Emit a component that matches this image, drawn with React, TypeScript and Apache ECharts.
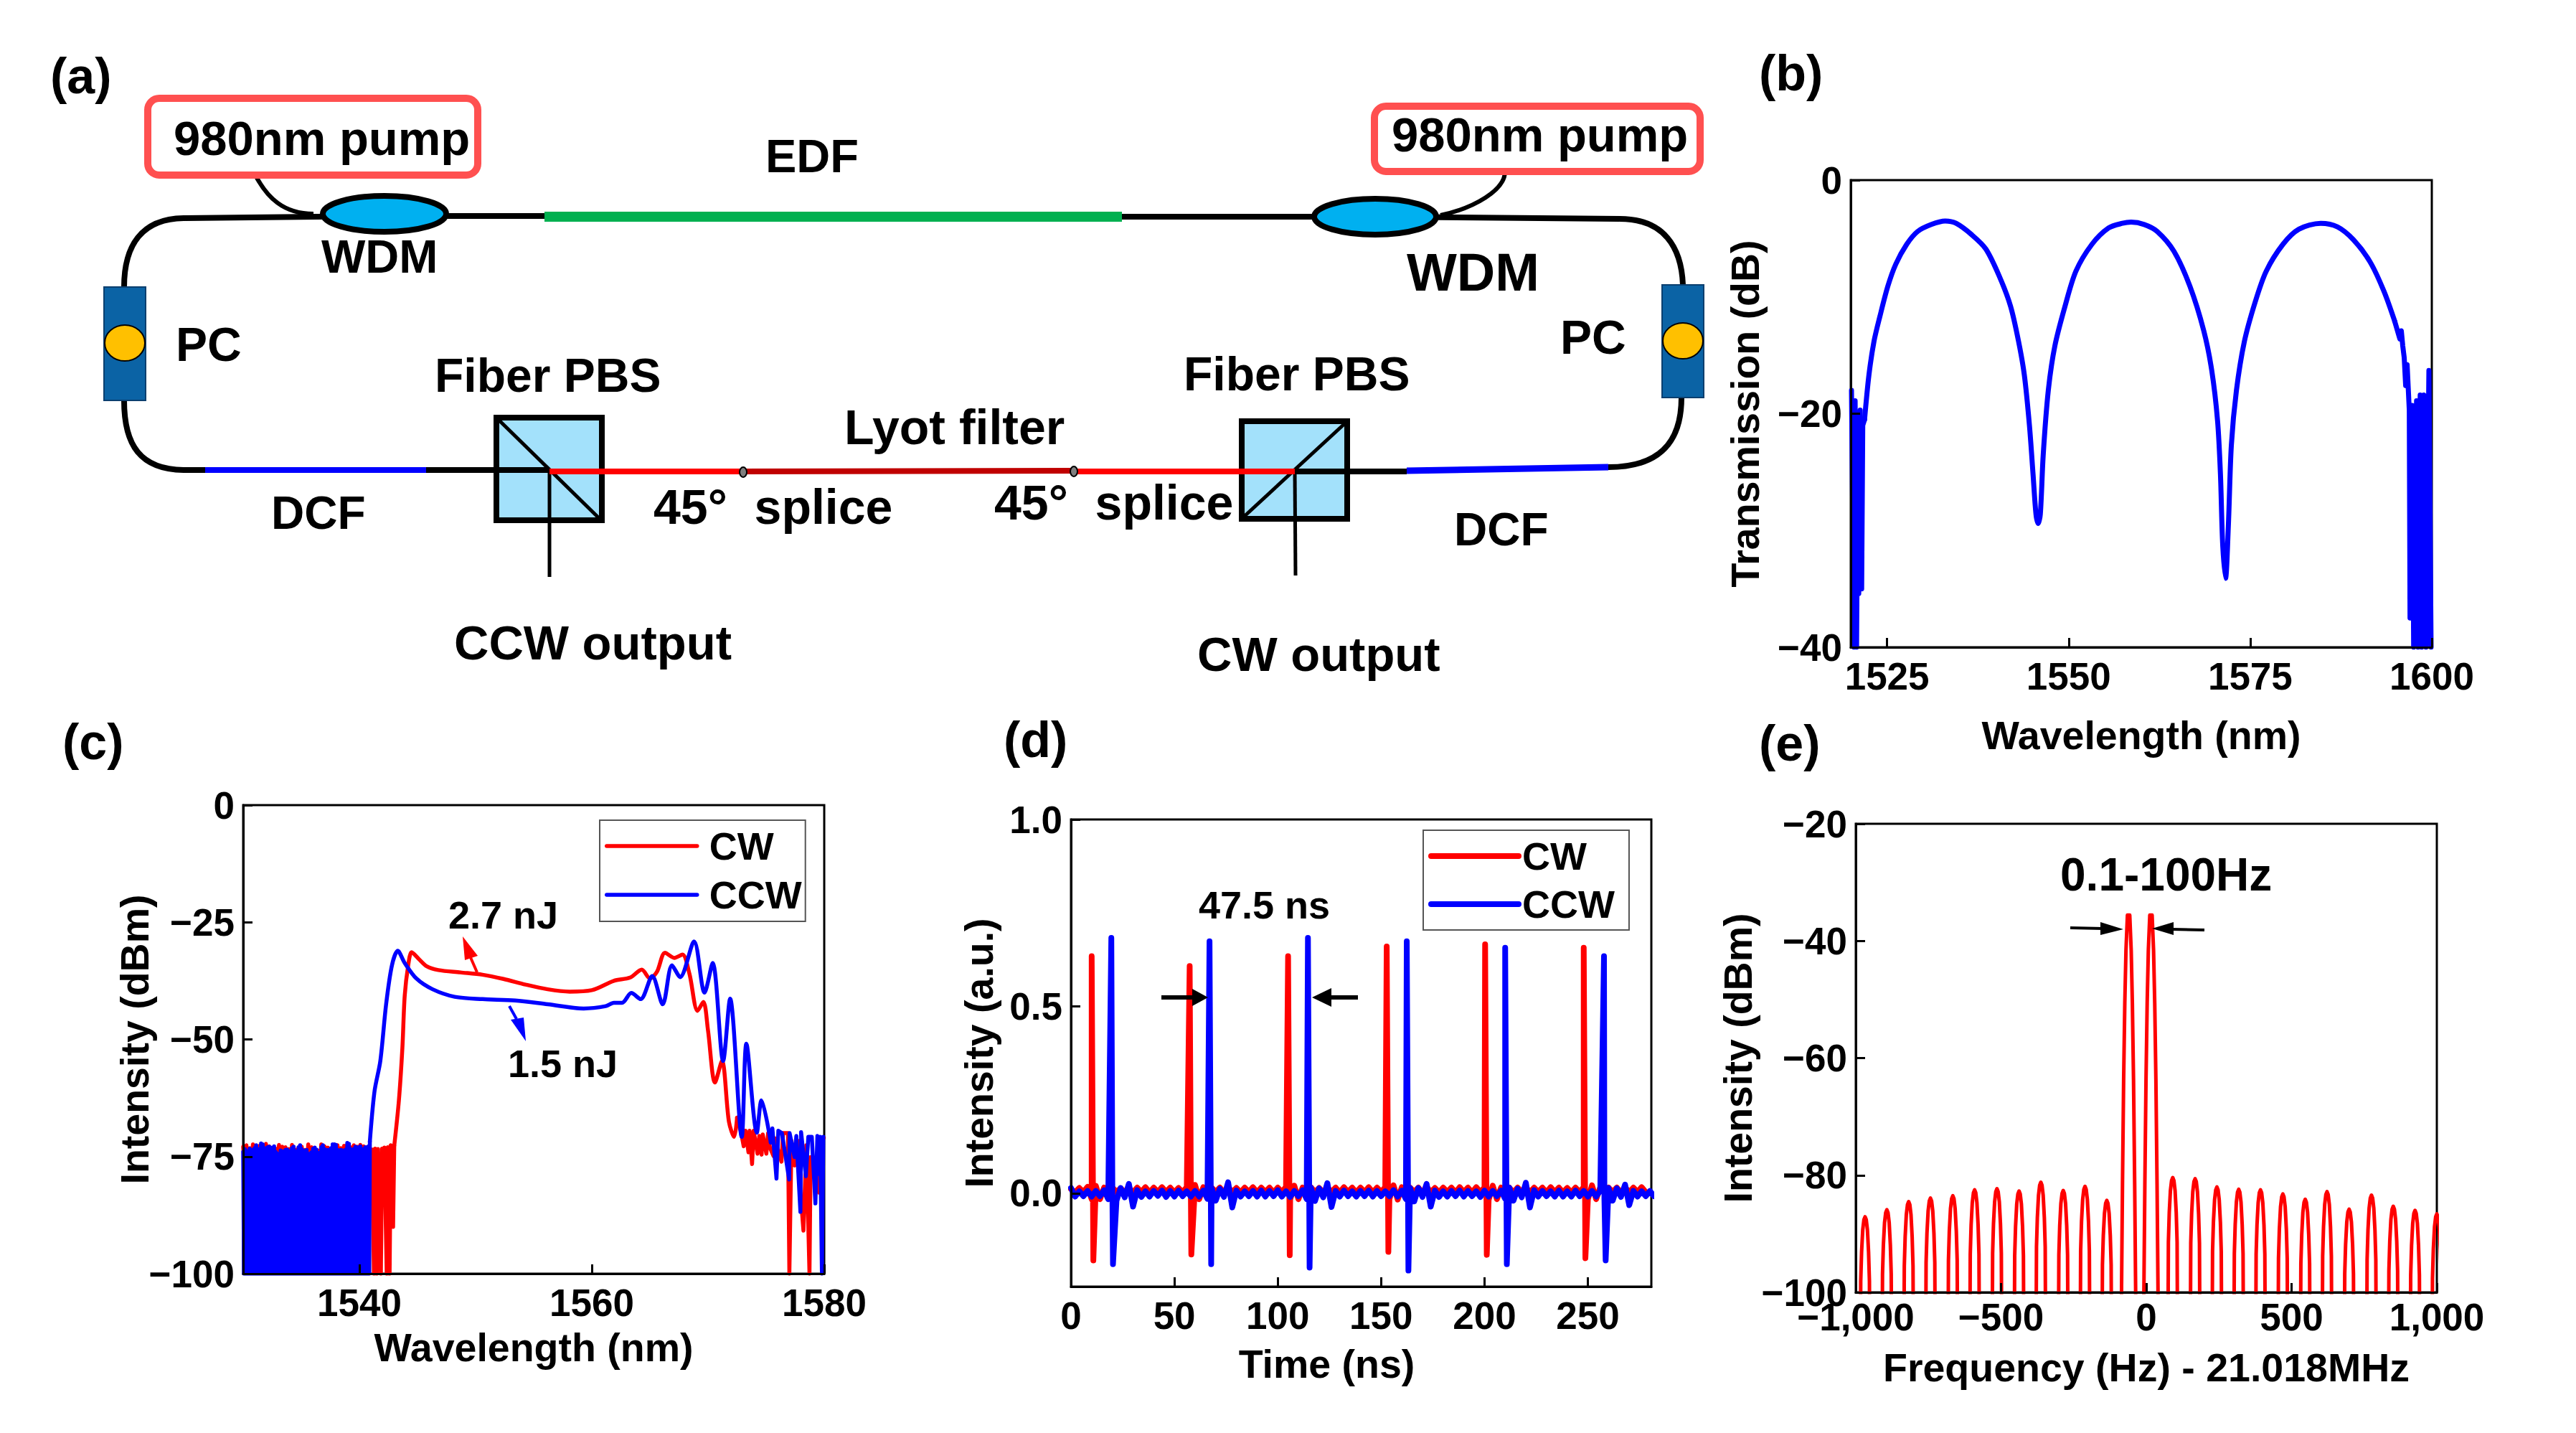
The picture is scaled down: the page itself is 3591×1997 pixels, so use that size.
import React, { useEffect, useRef } from "react";
import * as echarts from "echarts";

const FONT = '"Liberation Sans", Arial, sans-serif';
const RED = "#ff0000";
const BLUE = "#0000ff";

// ---------- panel (b) ----------
const bLeftNoise = [[1520.1,-18],[1520.45,-40],[1520.6,-18.9],[1520.8,-40],[1521,-21],[1521.1,-35.4],[1521.3,-19.7],[1521.5,-35],[1521.65,-21]];
const bCurve = [[1521.9,-20.5],[1522.5,-16.7],[1523.2,-13.8],[1524,-11.7],[1525.1,-9.1],[1526.2,-7.2],[1527.7,-5.5],[1529.2,-4.4],[1531.1,-3.8],[1533,-3.5],[1534.5,-3.7],[1536.7,-4.7],[1538.6,-5.9],[1540.5,-8.3],[1542,-10.8],[1543.1,-13.8],[1543.9,-16.7],[1544.6,-21],[1545.1,-25.2],[1545.5,-28.6],[1545.8,-29.4],[1546.1,-28.6],[1546.5,-23.5],[1547.2,-18],[1548.1,-14.2],[1549.5,-10.8],[1551,-7.8],[1553.2,-5.5],[1555.5,-4.1],[1557.4,-3.7],[1558.6,-3.6],[1560.4,-3.8],[1562.2,-4.4],[1564.5,-6.1],[1566.7,-9.1],[1568.6,-12.9],[1569.7,-16.3],[1570.5,-20.6],[1570.9,-25.2],[1571.2,-31.1],[1571.6,-34.1],[1572,-29.4],[1572.4,-22.7],[1573.1,-18],[1574.2,-13.8],[1575.7,-10.4],[1577.2,-7.8],[1579.5,-5.5],[1581.7,-4.2],[1584.7,-3.7],[1587,-4],[1589.2,-5.1],[1591.5,-7],[1593.4,-9.5],[1594.9,-12.1]];
const bRightNoise = [[1595.6,-13.6],[1595.8,-12.9],[1596,-14.2],[1596.2,-15.2],[1596.4,-17.6],[1596.6,-15.8],[1596.9,-19.7],[1597,-37.5],[1597.3,-19.3],[1597.5,-40],[1597.9,-18.9],[1598.1,-40],[1598.4,-18.4],[1598.6,-40],[1598.9,-18.4],[1599.2,-40],[1599.6,-16.3],[1599.9,-40]];

// ---------- panel (c) ----------
const cCcwLeftX0 = 1530;
const cCcwLeftStep = 0.14;
const cCcwLeftTops = [-74,-73.4,-73.8,-74.2,-73.3,-73.6,-74.1,-73.2,-72.6,-73.4,-74,-72.2,-72.4,-73.2,-73.5,-73,-72.9,-73.1,-73.6,-72.8,-74,-74.4,-74.6,-73.7,-73.9,-74.5,-73.6,-73.5,-73.8,-74.1,-73.2,-72.9,-73.8,-74,-73,-72.6,-73.4,-73.7,-73.9,-73.6,-74.4,-74.5,-74.1,-73.3,-73.1,-73.5,-74.2,-74.6,-73,-72.6,-73.4,-74.4,-73.6,-73.9,-73.2,-72.4,-72.4,-72.5,-73.6,-74.2,-73.6,-73.7,-73.9,-73.5,-72.1,-72.3,-73.4,-74.1,-73.4,-72.9,-73.6,-73,-72.8,-73.4,-73.5,-73,-73.1,-72.8];
const cCwUnderX0 = 1530;
const cCwUnderStep = 0.28;
const cCwUnderTops = [-72.9,-72.6,-73.2,-72.4,-73,-72.7,-73.4,-72.3,-72.8,-73.6,-73.3,-72.5,-72.9,-73,-73.4,-72.5,-73.5,-73.1,-72.9,-73.6,-72.4,-73,-73.3,-73.7,-72.4,-72.8,-73.1,-73.4,-72.5,-72.6,-73.2,-72.7,-72.4,-73,-72.6,-72.9,-72.5,-72.8,-73];
const cCwBlock = [[1540.9,-73.6],[1541,-85],[1541.1,-73.5],[1541.25,-100],[1541.35,-73.3],[1541.5,-100],[1541.6,-73.4],[1541.85,-100],[1541.95,-73.3],[1542.05,-82],[1542.15,-73.1],[1542.35,-100],[1542.45,-73],[1542.6,-100],[1542.7,-72.6],[1542.9,-90]];
const cCwCurve = [[1543,-72.7],[1543.4,-63],[1543.7,-51.8],[1543.9,-40.7],[1544.2,-34.2],[1544.5,-31.4],[1545.1,-32.8],[1545.8,-34.4],[1546.8,-35.2],[1548.7,-35.7],[1550.6,-36.2],[1552.4,-37.1],[1554.3,-38.3],[1556.2,-39.3],[1558.1,-39.8],[1560,-39.5],[1561.9,-37.5],[1563.3,-36.8],[1564.3,-35.1],[1565,-37],[1565.6,-35.6],[1566.3,-31.5],[1567.1,-32.6],[1567.8,-31.9],[1568.4,-36],[1569.1,-43.9],[1569.6,-42],[1570,-48.1],[1570.6,-59.2],[1571.2,-54.6],[1571.8,-67.6],[1572.25,-70.8],[1572.5,-66.7]];
const cCwRight = [[1572.86,-70.05],[1573.07,-72.8],[1573.23,-69.5],[1573.48,-74.1],[1573.58,-69.5],[1573.79,-76.6],[1573.93,-69.5],[1574.26,-74.4],[1574.41,-70.6],[1574.61,-74.6],[1574.71,-70.3],[1575.02,-74.4],[1575.17,-70],[1575.33,-73.1],[1575.64,-74.9],[1575.74,-71.1],[1576.32,-76.1],[1576.46,-70],[1576.88,-70],[1577,-100],[1577.18,-71.6],[1577.45,-76.9],[1577.7,-71.6],[1577.8,-77.7],[1578.21,-90.8],[1578.46,-72.6],[1578.73,-100],[1578.83,-75.1],[1579.55,-82.7],[1579.65,-71.6],[1579.96,-71]];
const cCcwCurve = [[1540.9,-71.8],[1541.3,-61.1],[1541.8,-54.6],[1542.3,-42.5],[1542.8,-34.2],[1543.3,-31.1],[1543.9,-33.7],[1544.9,-37],[1546.3,-39.3],[1548.2,-40.9],[1550.6,-41.4],[1553.4,-41.7],[1556.2,-42.5],[1559.3,-43.4],[1561.2,-42.9],[1561.9,-42.2],[1562.6,-42.2],[1563.4,-40.1],[1564.2,-41.4],[1565.2,-36.5],[1566.1,-42.5],[1566.9,-34.2],[1567.6,-36.7],[1568.8,-29.1],[1569.7,-40],[1570.4,-33.7],[1571.3,-54.6],[1571.9,-41.3],[1572.9,-70.8],[1573.3,-50.9],[1574.2,-69.9],[1574.6,-63],[1575.4,-72]];
const cCcwRight = [[1575.54,-69],[1575.89,-79.7],[1576.05,-69.5],[1576.36,-70],[1576.67,-74.9],[1576.98,-79.9],[1577.02,-70],[1577.45,-75.1],[1577.6,-70.6],[1577.95,-86.8],[1578.01,-69.8],[1578.42,-79.2],[1578.63,-70.8],[1578.93,-70.8],[1579.24,-85],[1579.41,-70.6],[1579.55,-78.7],[1579.65,-70.8],[1579.8,-100],[1579.92,-70.8]];

// ---------- panel (d) ----------
const dSampleStep = 2;
const dCwBase = [
  .011,.002,.014,.003,.017,-.016,.02,-.016,.015,.001,.015,.003,.013,.003,.014,.002,.015,.003,.016,.002,.015,.003,.016,.003,
  .015,.002,.014,.003,.016,-.018,.022,-.016,.016,.001,.015,.003,.015,.002,.016,.003,.014,.002,.015,.003,.016,.002,.015,.003,
  .015,.002,.015,.003,.017,-.017,.02,-.016,.015,.001,.016,.003,.014,.002,.015,.003,.015,.002,.016,.003,.015,.002,.015,.003,
  .016,.002,.015,.003,.016,-.016,.021,-.017,.016,.002,.015,.003,.015,.002,.017,.003,.014,.002,.015,.003,.015,.002,.016,.003,
  .015,.002,.016,.003,.015,-.018,.02,-.016,.015,.001,.015,.002,.015,.003,.016,.002,.015,.003,.015,.002,.016,.003,.015,.002,
  .014,.002,.015,.003,.016,-.017,.021,-.016,.016,.001,.015,.003,.015,.002,.016,.002,.015,.003,.016,.003,
];
const dCcwBase = [
  .014,-.009,.005,-.008,.006,-.009,.006,-.008,.008,-.016,.014,-.02,.014,-.011,.025,-.036,.008,-.01,.005,-.009,.006,-.007,.007,-.01,
  .006,-.009,.007,-.008,.005,-.009,.006,-.009,.007,-.015,.014,-.02,.012,-.01,.029,-.038,.007,-.009,.005,-.008,.006,-.009,.007,-.009,
  .006,-.008,.008,-.009,.005,-.01,.006,-.008,.008,-.016,.015,-.021,.013,-.011,.027,-.037,.006,-.009,.007,-.008,.005,-.009,.006,-.008,
  .007,-.009,.006,-.008,.005,-.008,.008,-.009,.007,-.016,.014,-.022,.014,-.01,.025,-.036,.007,-.01,.005,-.009,.006,-.008,.007,-.009,
  .006,-.008,.005,-.01,.007,-.009,.006,-.008,.007,-.015,.015,-.02,.012,-.011,.028,-.038,.008,-.009,.006,-.008,.005,-.009,.007,-.009,
  .005,-.009,.007,-.008,.006,-.009,.006,-.009,.007,-.016,.014,-.02,.013,-.01,.023,-.032,.006,-.009,.005,-.008,.006,-.008,
];
const dCwPulseT = [10, 57.4, 105, 152.7, 200.3, 248];
const dCwPeak = [0.634, 0.608, 0.634, 0.66, 0.666, 0.657];
const dCwDip = [-0.18, -0.164, -0.166, -0.157, -0.165, -0.174];
const dCcwPulseT = [19.5, 67, 114.6, 162.4, 210, 257.8];
const dCcwPeak = [0.683, 0.674, 0.683, 0.674, 0.657, 0.634];
const dCcwDip = [-0.19, -0.19, -0.199, -0.207, -0.19, -0.18];
const dDipDelay = 0.8;

// ---------- panel (e) ----------
const eLobeHz = [-968,-893,-818,-743,-666,-591,-514,-438,-363,-286,-211,-136,-61,16,91,168,243,318,393,470,547,622,698,775,850,925,1000];
const eLobeDb = [-87.1,-85.9,-84.5,-83.9,-83.5,-82.5,-82.3,-82.7,-81.2,-82.6,-81.9,-84.3,-35.6,-35.6,-80.4,-80.6,-82,-82.4,-82.5,-83.2,-84.1,-82.8,-85.8,-83.4,-85.3,-86,-86.6];
const eSideOffsets = [-17,-15,-12,-8,-4,0,4,8,12,15,17];
const eSideDrops = [34,11,6,2.2,0.5,0,0.5,2.2,6,11,34];
const eMainOffsets = [-25,-21,-17,-13,-9,-4,4,9,13,17,21,25];
const eMainDrops = [68,46,28,15,6,0,0,6,15,28,46,68];

// ---------- tick labels ----------
const bXTicks = [1525, 1550, 1575, 1600];
const bYTicks = [0, -20, -40];
const cXTicks = [1540, 1560, 1580];
const cYTicks = [0, -25, -50, -75, -100];
const dXTicks = [0, 50, 100, 150, 200, 250];
const dYTicks = [0, 0.5, 1];
const eXTicks = [-1000, -500, 0, 500, 1000];
const eYTicks = [-20, -40, -60, -80, -100];

// ---------- series builders ----------
function spikes(x0: number, step: number, tops: number[], low: number) {
  const out: number[][] = [];
  tops.forEach((t, i) => {
    out.push([x0 + i * step, t]);
    out.push([x0 + (i + 0.5) * step, low]);
  });
  return out;
}
function pulseTrain(base: number[], ts: number[], peaks: number[], dips: number[]) {
  const pts: number[][] = base.map((v, i) => [i * dSampleStep, v]);
  ts.forEach((t, i) => {
    pts.push([t, peaks[i]]);
    pts.push([t + dDipDelay, dips[i]]);
  });
  return pts.sort((a, b) => a[0] - b[0]);
}
function lobes() {
  const pts: number[][] = [];
  eLobeHz.forEach((hz, i) => {
    const main = eLobeDb[i] > -50;
    const off = main ? eMainOffsets : eSideOffsets;
    const drop = main ? eMainDrops : eSideDrops;
    off.forEach((o, j) => pts.push([hz + o, eLobeDb[i] - drop[j]]));
  });
  return pts;
}
const lastOf = (a: number[][]) => a[a.length - 1];

const minus = (s: string) => s.replace("-", "\u2212");
const thousands = (v: number) => minus(v.toLocaleString("en-US"));

function axis(min: number, max: number, ticks: number[], name: string, gap: number, gridIndex: number, fmt: (v: number) => string, margin: number, namePadding: number[] = [0, 0, 0, 0]) {
  return {
    type: "value", gridIndex, min, max, name, nameLocation: "middle", nameGap: gap, nameMoveOverlap: false, z: 5,
    nameTextStyle: { fontFamily: FONT, fontWeight: "bold", fontSize: 55.5, color: "#000", padding: namePadding },
    axisLine: { show: true, onZero: false, lineStyle: { color: "#000", width: 3 } },
    axisTick: { show: true, inside: true, length: 13, customValues: ticks, lineStyle: { color: "#000", width: 3 } },
    axisLabel: { show: true, customValues: ticks, margin, formatter: fmt, fontFamily: FONT, fontWeight: "bold", fontSize: 53, color: "#000", hideOverlap: false },
    splitLine: { show: false },
  };
}

function line(name: string | undefined, data: number[][], color: string, width: number, idx: number, smooth: number | boolean = false) {
  return {
    type: "line", name, data, xAxisIndex: idx, yAxisIndex: idx, symbol: "none", showSymbol: false, silent: true, smooth,
    lineStyle: { color, width, join: "round", cap: "round" }, itemStyle: { color }, clip: true,
  };
}

// ---------- schematic helpers (panel a and annotations) ----------
const txt = (text: string, x: number, baseline: number, fs: number) => ({
  type: "text", z: 50,
  style: { text, x, y: baseline - 0.36 * fs, fontFamily: FONT, fontWeight: "bold", fontSize: fs, fill: "#000", textAlign: "left", textVerticalAlign: "middle", verticalAlign: "middle" },
});
const seg = (x1: number, y1: number, x2: number, y2: number, stroke: string, lineWidth: number, z = 30) => ({
  type: "line", z, shape: { x1, y1, x2, y2 }, style: { stroke, lineWidth },
});
const bez = (x1: number, y1: number, cpx1: number, cpy1: number, cpx2: number, cpy2: number, x2: number, y2: number, lineWidth = 8) => ({
  type: "bezierCurve", z: 30, shape: { x1, y1, cpx1, cpy1, cpx2, cpy2, x2, y2 }, style: { stroke: "#000", lineWidth, fill: "none" },
});
const tri = (points: number[][], fill: string) => ({ type: "polygon", z: 40, shape: { points }, style: { fill } });
const ell = (cx: number, cy: number, rx: number, ry: number, fill: string, lineWidth: number, z = 35) => ({
  type: "ellipse", z, shape: { cx, cy, rx, ry }, style: { fill, stroke: "#000", lineWidth },
});
const box = (x: number, y: number, width: number, height: number, fill: string, stroke: string, lineWidth: number, r = 0, z = 32) => ({
  type: "rect", z, shape: { x, y, width, height, r }, style: { fill, stroke, lineWidth },
});

const schematic: any[] = [
  // loop fibre
  seg(258, 304, 540, 301, "#000", 8), seg(540, 301, 759, 301, "#000", 8),
  seg(1564, 302, 1917, 302, "#000", 8), seg(1917, 302, 2258, 305, "#000", 8),
  bez(258, 304, 195, 304, 173, 345, 173, 400),
  bez(173, 558, 173, 620, 195, 655, 258, 655),
  bez(2258, 305, 2320, 305, 2344, 345, 2346, 397),
  bez(2344, 554, 2344, 620, 2310, 651, 2242, 651),
  seg(258, 655, 286, 655, "#000", 8), seg(594, 655, 766, 655, "#000", 8, 34), seg(1805, 657, 1961, 657, "#000", 8, 34),
  seg(759, 302, 1564, 302, "#00b050", 14),
  seg(286, 655, 594, 655, "#0000ff", 8), seg(1961, 656, 2242, 651, "#0000ff", 9),
  // pump leads
  bez(356, 244, 372, 275, 395, 298, 437, 298, 6),
  bez(2098, 239, 2098, 265, 2055, 290, 2008, 300, 6),
  box(206, 137, 460, 107, "#fff", "#ff5050", 10, 16), box(1916, 148, 454, 91, "#fff", "#ff5050", 10, 16),
  ell(536, 298, 86, 25, "#00b0f0", 8), ell(1917, 302, 85, 25, "#00b0f0", 8),
  // polarisation controllers
  box(145, 400, 58, 158, "#0b63a5", "#0b3f6f", 2), box(2317, 397, 58, 157, "#0b63a5", "#0b3f6f", 2),
  ell(174, 478, 28, 25, "#ffc000", 2, 36), ell(2346, 475, 28, 25, "#ffc000", 2, 36),
  // PBS cubes
  box(692, 582, 147, 143, "#a3e1fb", "#000", 8, 0, 31), box(1731, 587, 147, 136, "#a3e1fb", "#000", 8, 0, 31),
  seg(694, 584, 837, 724, "#000", 5, 33), seg(1876, 589, 1733, 721, "#000", 5, 33),
  seg(766, 657, 766, 804, "#000", 5, 33), seg(1805, 657, 1806, 802, "#000", 5, 33),
  // Lyot filter
  seg(766, 657, 1036, 657, "#ff0000", 8, 34), seg(1036, 657, 1497, 656, "#c00000", 8, 34), seg(1497, 657, 1805, 657, "#ff0000", 8, 34),
  ell(1036, 658, 5, 7, "#7f7f7f", 2), ell(1497, 657, 5, 7, "#7f7f7f", 2),
  // labels
  txt("(a)", 70, 131, 70), txt("(b)", 2452, 127, 70), txt("(c)", 87, 1059, 70), txt("(d)", 1399, 1056, 70), txt("(e)", 2452, 1061, 70),
  txt("980nm pump", 242, 217, 67), txt("980nm pump", 1940, 212, 67),
  txt("EDF", 1067, 241, 65), txt("WDM", 448, 381, 65), txt("WDM", 1961, 406, 74),
  txt("PC", 245, 504, 66), txt("PC", 2175, 494, 66),
  txt("Fiber PBS", 606, 547, 66), txt("Fiber PBS", 1650, 545, 66),
  txt("Lyot filter", 1177, 619, 68),
  txt("45\u00b0  splice", 911, 730, 68), txt("45\u00b0  splice", 1386, 724, 68),
  txt("DCF", 378, 738, 64), txt("DCF", 2027, 761, 64),
  txt("CCW output", 633, 920, 67), txt("CW output", 1669, 936, 67),
  // panel (c) notes
  txt("2.7 nJ", 625, 1294, 54), txt("1.5 nJ", 708, 1501, 54),
  seg(665, 1355, 655, 1332, "#ff0000", 4, 40), tri([[645, 1305], [648, 1338], [666, 1332]], "#ff0000"),
  seg(710, 1402, 720, 1420, "#0000ff", 4, 40), tri([[733, 1451], [712, 1421], [730, 1418]], "#0000ff"),
  // panel (d) notes
  txt("47.5 ns", 1671, 1280, 54),
  seg(1619, 1390, 1668, 1390, "#000", 6, 40), tri([[1684, 1390], [1662, 1378], [1662, 1402]], "#000"),
  seg(1853, 1390, 1893, 1390, "#000", 6, 40), tri([[1829, 1390], [1856, 1377], [1856, 1403]], "#000"),
  // panel (e) notes
  txt("0.1-100Hz", 2872, 1242, 64),
  seg(2886, 1293, 2932, 1294, "#000", 4, 40), tri([[2960, 1295], [2928, 1285], [2928, 1303]], "#000"),
  seg(3028, 1295, 3073, 1296, "#000", 4, 40), tri([[3000, 1294], [3030, 1285], [3030, 1303]], "#000"),
  // the figure's own crop across the lower edge of the (b) axis title
  { type: "rect", z: 60, shape: { x: 2780, y: 1058, width: 420, height: 16 }, style: { fill: "#fff" } },
];

const legendBase = (left: number, top: number, padding: number[], lw: number, gap: number, itemGap: number, len: number) => ({
  show: true, orient: "vertical", left, top, padding, itemGap, itemWidth: len, itemHeight: 55, selectedMode: false,
  backgroundColor: "#fff", borderColor: "#555", borderWidth: 2, borderRadius: 0, align: "left", z: 20,
  lineStyle: { width: lw, cap: "round" },
  itemStyle: { color: "transparent", opacity: 0, borderWidth: 0 },
  data: ["CW", "CCW"],
  textStyle: { fontFamily: FONT, fontWeight: "bold", fontSize: 54, color: "#000", padding: [0, 0, 0, gap] },
});

const option: any = {
  animation: false,
  backgroundColor: "#fff",
  legend: [
    legendBase(836, 1143, [9, 5, 10, 7], 5.5, 12, 14, 126),
    legendBase(1984, 1157, [9, 20, 9, 7], 8, 0, 13, 122),
  ],
  grid: [
    { left: 2580, top: 251, width: 810, height: 651 },
    { left: 339, top: 1122, width: 810, height: 653 },
    { left: 1493, top: 1142, width: 809, height: 651 },
    { left: 2587, top: 1148, width: 810, height: 653 },
  ].map((g) => ({ ...g, show: true, borderColor: "#000", borderWidth: 3, backgroundColor: "transparent", containLabel: false })),
  xAxis: [
    axis(1520, 1600, bXTicks, "Wavelength (nm)", 95, 0, (v) => String(v), 14),
    axis(1530, 1580, cXTicks, "Wavelength (nm)", 75, 1, (v) => String(v), 14),
    axis(0, 280.7, dXTicks, "Time (ns)", 80, 2, (v) => String(v), 14, [0, 96, 0, 0]),
    axis(-1000, 1000, eXTicks, "Frequency (Hz) - 21.018MHz", 77, 3, thousands, 8),
  ],
  yAxis: [
    axis(-40, 0, bYTicks, "Transmission (dB)", 119, 0, (v) => minus(String(v)), 12),
    axis(-100, 0, cYTicks, "Intensity (dBm)", 123, 1, (v) => minus(String(v)), 12),
    axis(-0.25, 1, dYTicks, "Intensity (a.u.)", 100, 2, (v) => v.toFixed(1), 12),
    axis(-100, -20, eYTicks, "Intensity (dBm)", 136, 3, (v) => minus(String(v)), 12),
  ],
  series: [
    line(undefined, [...bLeftNoise, bCurve[0]], BLUE, 7, 0),
    line(undefined, bCurve, BLUE, 7, 0, 0.3),
    line(undefined, [lastOf(bCurve), ...bRightNoise], BLUE, 7, 0),
    line("CW", [...spikes(cCwUnderX0, cCwUnderStep, cCwUnderTops, -78), ...cCwBlock, cCwCurve[0]], RED, 5.5, 1),
    line("CW", cCwCurve, RED, 5.5, 1, 0.3),
    line("CW", [lastOf(cCwCurve), ...cCwRight], RED, 5.5, 1),
    line("CCW", [...spikes(cCcwLeftX0, cCcwLeftStep, cCcwLeftTops, -100), cCcwCurve[0]], BLUE, 5.5, 1),
    line("CCW", cCcwCurve, BLUE, 5.5, 1, 0.3),
    line("CCW", [lastOf(cCcwCurve), ...cCcwRight], BLUE, 5.5, 1),
    line("CW", pulseTrain(dCwBase, dCwPulseT, dCwPeak, dCwDip), RED, 8, 2),
    line("CCW", pulseTrain(dCcwBase, dCcwPulseT, dCcwPeak, dCcwDip), BLUE, 8, 2),
    line(undefined, lobes(), RED, 5, 3),
  ],
  graphic: { elements: schematic },
};

export default function App() {
  const ref = useRef<HTMLDivElement>(null);
  useEffect(() => {
    document.body.style.margin = "0";
    const chart = echarts.init(ref.current!, undefined, { renderer: "svg" });
    chart.setOption(option);
    return () => chart.dispose();
  }, []);
  return <div ref={ref} style={{ position: "absolute", left: 0, top: 0, width: 3591, height: 1997 }} />;
}
